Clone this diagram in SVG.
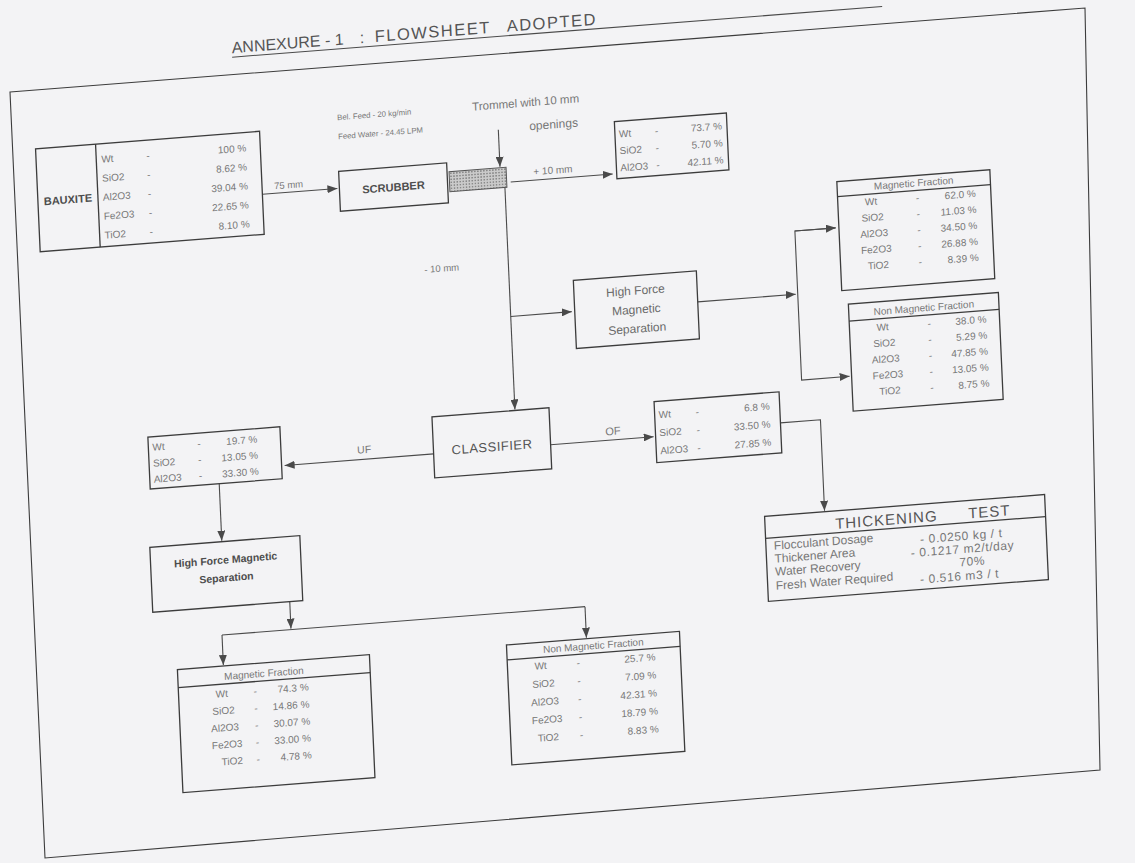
<svg xmlns="http://www.w3.org/2000/svg" width="1135" height="863" viewBox="0 0 1135 863">
<defs>
<style>
.bx{fill:none;stroke:#3c3c3c;stroke-width:1.3}
.ln{fill:none;stroke:#4a4a4a;stroke-width:1.1}
.ar{fill:none;stroke:#4a4a4a;stroke-width:1.1;marker-end:url(#ah)}
text{font-family:"Liberation Sans",Arial,sans-serif;fill:#777;font-size:10px}
.b{font-weight:bold;fill:#4d4d4d;font-size:11px}
.c{text-anchor:middle}
.r{text-anchor:end}
.sm{font-size:7.8px}
.md{font-size:12px;fill:#6a6a6a}
.th{font-size:12px}
.tv{font-size:12px;letter-spacing:0.6px}
</style>
<marker id="ah" viewBox="0 0 10 8" markerWidth="10" markerHeight="8" refX="10" refY="4" orient="auto" markerUnits="userSpaceOnUse"><path d="M0,0L10,4L0,8z" fill="#4a4a4a"/></marker>
<pattern id="hatch" width="3" height="3" patternUnits="userSpaceOnUse"><rect width="3" height="3" fill="#cacaca"/><rect width="1.5" height="1.5" fill="#8a8a8a"/></pattern>
</defs>
<rect width="1135" height="863" fill="#f3f3f5"/>
<polygon id="frame" points="10,92 1085,8 1100,770 45,858" fill="none" stroke="#3c3c3c" stroke-width="1.1"/>
<g id="page" transform="matrix(1,-0.078,0.045,1,-19.35,43.68)">
<g id="title">
<text y="29" style="font-size:16px;fill:#555"><tspan x="250">ANNEXURE - 1</tspan><tspan x="378">:</tspan><tspan x="393" style="font-size:16.5px;letter-spacing:1.5px">FLOWSHEET</tspan><tspan x="525" style="font-size:16.5px;letter-spacing:1.5px">ADOPTED</tspan></text>
<line class="ln" x1="250" y1="33" x2="900" y2="33"/>
</g>
<g id="connectors">
<line class="ar" x1="274" y1="172" x2="349" y2="172"/>
<line class="ar" x1="512" y1="126" x2="512" y2="163"/>
<line class="ar" x1="522" y1="179" x2="624" y2="179"/>
<line class="ar" x1="516" y1="184" x2="516" y2="406"/>
<line class="ar" x1="516" y1="313" x2="577" y2="313"/>
<line class="ar" x1="703" y1="313" x2="801" y2="313"/>
<polyline class="ln" points="843,250 803,250 803,399 851,399" marker-end="url(#ah)"/>
<line class="ar" x1="803" y1="250" x2="844" y2="250"/>
<line class="ar" x1="433" y1="444" x2="284" y2="444"/>
<line class="ar" x1="550" y1="444" x2="653" y2="444"/>
<polyline class="ar" points="780,440 820,440 820,531"/>
<line class="ar" x1="218" y1="457" x2="218" y2="514"/>
<line class="ar" x1="283" y1="580" x2="283" y2="607"/>
<line class="ln" x1="214" y1="608" x2="577" y2="608"/>
<line class="ar" x1="214" y1="608" x2="214" y2="638"/>
<line class="ar" x1="577" y1="608" x2="577" y2="639"/>
<text x="286" y="168" style="font-size:9.5px">75 mm</text>
<text x="545" y="174">+ 10 mm</text>
<text x="432" y="263" style="font-size:9.5px">- 10 mm</text>
<text x="357" y="438" style="font-size:10.5px">UF</text>
<text x="605" y="439" style="font-size:11px">OF</text>
</g>
<g id="bauxite">
<rect class="bx" x="50" y="109" width="224" height="103"/>
<line class="bx" x1="110" y1="109" x2="110" y2="212"/>
<text class="b c" x="80" y="166">BAUXITE</text>
<text y="128"><tspan x="115">Wt</tspan><tspan x="160">-</tspan><tspan class="r" x="260">100 %</tspan></text>
<text y="147"><tspan x="115">SiO2</tspan><tspan x="160">-</tspan><tspan class="r" x="260">8.62 %</tspan></text>
<text y="166"><tspan x="115">Al2O3</tspan><tspan x="160">-</tspan><tspan class="r" x="260">39.04 %</tspan></text>
<text y="185"><tspan x="115">Fe2O3</tspan><tspan x="160">-</tspan><tspan class="r" x="260">22.65 %</tspan></text>
<text y="204"><tspan x="115">TiO2</tspan><tspan x="160">-</tspan><tspan class="r" x="260">8.10 %</tspan></text>
</g>
<g id="feed-notes">
<text class="sm" x="352" y="104">Bel. Feed - 20 kg/min</text>
<text class="sm" x="352" y="123">Feed Water - 24.45 LPM</text>
</g>
<g id="scrubber">
<rect class="bx" x="351" y="155" width="108" height="40"/>
<text class="b c" x="405" y="179">SCRUBBER</text>
</g>
<g id="trommel">
<rect x="461" y="164" width="57" height="20" fill="url(#hatch)" stroke="#555" stroke-width="1"/>
<text x="487" y="105" style="font-size:11.5px">Trommel with 10 mm</text>
<text x="543" y="129" style="font-size:12px">openings</text>
</g>
<g id="oversize">
<rect class="bx" x="628" y="127" width="112" height="57"/>
<text y="143"><tspan x="632">Wt</tspan><tspan x="668">-</tspan><tspan class="r" x="735">73.7 %</tspan></text>
<text y="160"><tspan x="632">SiO2</tspan><tspan x="668">-</tspan><tspan class="r" x="735">5.70 %</tspan></text>
<text y="177"><tspan x="632">Al2O3</tspan><tspan x="668">-</tspan><tspan class="r" x="735">42.11 %</tspan></text>
</g>
<g id="hfms-1">
<rect class="bx" x="580" y="282" width="123" height="68" stroke-width="1.1"/>
<text class="md c" x="641.5" y="301">High Force</text>
<text class="md c" x="641.5" y="320">Magnetic</text>
<text class="md c" x="641.5" y="339">Separation</text>
</g>
<g id="mag-1">
<rect class="bx" x="847" y="204" width="153" height="109"/>
<line class="bx" x1="847" y1="219" x2="1000" y2="219"/>
<text class="c" x="923.5" y="215">Magnetic Fraction</text>
<text y="230"><tspan x="874">Wt</tspan><tspan x="925">-</tspan><tspan class="r" x="985">62.0 %</tspan></text>
<text y="246"><tspan x="870">SiO2</tspan><tspan x="925">-</tspan><tspan class="r" x="985">11.03 %</tspan></text>
<text y="262"><tspan x="868">Al2O3</tspan><tspan x="925">-</tspan><tspan class="r" x="985">34.50 %</tspan></text>
<text y="278"><tspan x="868">Fe2O3</tspan><tspan x="925">-</tspan><tspan class="r" x="985">26.88 %</tspan></text>
<text y="294"><tspan x="874">TiO2</tspan><tspan x="925">-</tspan><tspan class="r" x="985">8.39 %</tspan></text>
</g>
<g id="nonmag-1">
<rect class="bx" x="853" y="327" width="150" height="107"/>
<line class="bx" x1="853" y1="344" x2="1003" y2="344"/>
<text class="c" x="928" y="340">Non Magnetic Fraction</text>
<text y="356"><tspan x="880">Wt</tspan><tspan x="931">-</tspan><tspan class="r" x="990">38.0 %</tspan></text>
<text y="372"><tspan x="876">SiO2</tspan><tspan x="931">-</tspan><tspan class="r" x="990">5.29 %</tspan></text>
<text y="388"><tspan x="874">Al2O3</tspan><tspan x="931">-</tspan><tspan class="r" x="990">47.85 %</tspan></text>
<text y="404"><tspan x="874">Fe2O3</tspan><tspan x="931">-</tspan><tspan class="r" x="990">13.05 %</tspan></text>
<text y="420"><tspan x="880">TiO2</tspan><tspan x="931">-</tspan><tspan class="r" x="990">8.75 %</tspan></text>
</g>
<g id="classifier">
<rect class="bx" x="433" y="407" width="117" height="61" stroke-width="1.1"/>
<text class="c" x="491.5" y="446" style="font-size:13px;fill:#555;letter-spacing:0.5px">CLASSIFIER</text>
</g>
<g id="underflow">
<rect class="bx" x="149" y="405" width="132" height="52"/>
<text y="419"><tspan x="153">Wt</tspan><tspan x="198">-</tspan><tspan class="r" x="258">19.7 %</tspan></text>
<text y="435"><tspan x="153">SiO2</tspan><tspan x="198">-</tspan><tspan class="r" x="258">13.05 %</tspan></text>
<text y="451"><tspan x="153">Al2O3</tspan><tspan x="198">-</tspan><tspan class="r" x="258">33.30 %</tspan></text>
</g>
<g id="overflow">
<rect class="bx" x="655" y="409" width="125" height="61"/>
<text y="426"><tspan x="659">Wt</tspan><tspan x="696">-</tspan><tspan class="r" x="770">6.8 %</tspan></text>
<text y="444"><tspan x="659">SiO2</tspan><tspan x="696">-</tspan><tspan class="r" x="770">33.50 %</tspan></text>
<text y="462"><tspan x="659">Al2O3</tspan><tspan x="696">-</tspan><tspan class="r" x="770">27.85 %</tspan></text>
</g>
<g id="thickening">
<rect class="bx" x="760" y="532" width="280" height="85" stroke-width="1.1"/>
<line class="bx" x1="760" y1="554" x2="1040" y2="554" stroke-width="1"/>
<text x="830" y="550" style="font-size:15px;fill:#555;letter-spacing:1px">THICKENING</text>
<text x="963" y="550" style="font-size:15px;fill:#555;letter-spacing:1px">TEST</text>
<text class="th" x="768" y="566">Flocculant Dosage</text>
<text class="th" x="768" y="579">Thickener Area</text>
<text class="th" x="768" y="592">Water Recovery</text>
<text class="th" x="768" y="606">Fresh Water Required</text>
<text class="tv" x="914" y="571">- 0.0250 kg / t</text>
<text class="tv" x="904" y="584">- 0.1217 m2/t/day</text>
<text class="tv" x="952" y="597">70%</text>
<text class="tv" x="912" y="611">- 0.516 m3 / t</text>
</g>
<g id="hfms-2">
<rect class="bx" x="146" y="515" width="150" height="65"/>
<text class="b c" x="221" y="537" style="font-size:10.5px">High Force Magnetic</text>
<text class="b c" x="221" y="555" style="font-size:10.5px">Separation</text>
</g>
<g id="mag-2">
<rect class="bx" x="168" y="639" width="192" height="123"/>
<line class="bx" x1="168" y1="657" x2="360" y2="657"/>
<text class="c" x="254" y="653">Magnetic Fraction</text>
<text y="670"><tspan x="205">Wt</tspan><tspan x="243">-</tspan><tspan class="r" x="298">74.3 %</tspan></text>
<text y="687"><tspan x="201">SiO2</tspan><tspan x="243">-</tspan><tspan class="r" x="298">14.86 %</tspan></text>
<text y="704"><tspan x="199">Al2O3</tspan><tspan x="243">-</tspan><tspan class="r" x="298">30.07 %</tspan></text>
<text y="721"><tspan x="199">Fe2O3</tspan><tspan x="243">-</tspan><tspan class="r" x="298">33.00 %</tspan></text>
<text y="738"><tspan x="208">TiO2</tspan><tspan x="243">-</tspan><tspan class="r" x="298">4.78 %</tspan></text>
</g>
<g id="nonmag-2">
<rect class="bx" x="497" y="640" width="173" height="120"/>
<line class="bx" x1="497" y1="655" x2="670" y2="655"/>
<text class="c" x="583.5" y="651">Non Magnetic Fraction</text>
<text y="667"><tspan x="524">Wt</tspan><tspan x="566">-</tspan><tspan class="r" x="645">25.7 %</tspan></text>
<text y="685"><tspan x="521">SiO2</tspan><tspan x="566">-</tspan><tspan class="r" x="645">7.09 %</tspan></text>
<text y="703"><tspan x="519">Al2O3</tspan><tspan x="566">-</tspan><tspan class="r" x="645">42.31 %</tspan></text>
<text y="721"><tspan x="519">Fe2O3</tspan><tspan x="566">-</tspan><tspan class="r" x="645">18.79 %</tspan></text>
<text y="739"><tspan x="524">TiO2</tspan><tspan x="566">-</tspan><tspan class="r" x="645">8.83 %</tspan></text>
</g>
</g>
</svg>
